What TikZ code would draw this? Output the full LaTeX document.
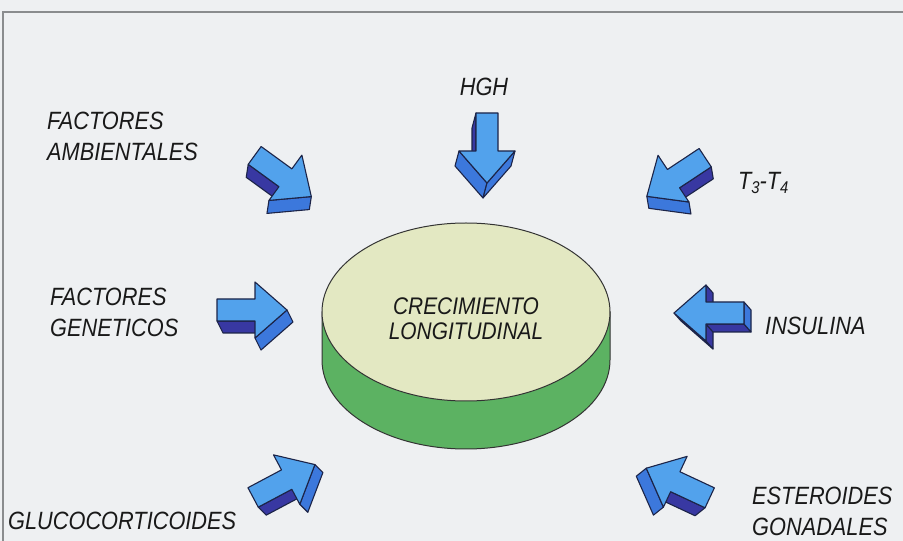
\documentclass[tikz,border=0pt]{standalone}
\usepackage{fontspec}
\usepackage{tikz}
\usetikzlibrary{calc}
\newfontfamily\lblfont[FakeStretch=0.87]{Liberation Sans}
\definecolor{paper}{HTML}{EEF0F2}
\definecolor{frameline}{HTML}{8A8C8E}
\definecolor{disctop}{HTML}{E3E8C2}
\definecolor{discside}{HTML}{5CB262}
\definecolor{arrowlight}{HTML}{52A2EC}
\definecolor{arrowmid}{HTML}{3C78DC}
\definecolor{arrowdark}{HTML}{3838A2}
\definecolor{arrowline}{HTML}{1C2448}
\newcommand\blockarrow[6]{%
  \begin{scope}[shift={(#2,#3)},rotate=#4]
    \coordinate (#1-1) at (-35,-11);
    \coordinate (#1-2) at (3,-11);
    \coordinate (#1-3) at (3,-28);
    \coordinate (#1-4) at (35,0);
    \coordinate (#1-5) at (3,28);
    \coordinate (#1-6) at (3,11);
    \coordinate (#1-7) at (-35,11);
  \end{scope}
  \pgfmathsetmacro\ox{(#5)*cos(#4)+(#6)*sin(#4)}
  \pgfmathsetmacro\oy{-(#5)*sin(#4)+(#6)*cos(#4)}
  \foreach \p/\q/\nx/\ny/\c in {1/2/0/-1/arrowdark,2/3/-1/0/arrowdark,3/4/28/-32/arrowmid,
      4/5/28/32/arrowmid,5/6/-1/0/arrowdark,6/7/0/1/arrowdark,7/1/-1/0/arrowmid}{
    \pgfmathtruncatemacro\vis{((\nx)*(\ox)+(\ny)*(\oy))>0.01}
    \ifnum\vis=1
      \filldraw[arrowside,fill=\c] (#1-\p) -- (#1-\q) -- ++(#5,#6) -- ($(#1-\p)+(#5,#6)$) -- cycle;
    \fi
  }
  \filldraw[arrowface] (#1-1) -- (#1-2) -- (#1-3) -- (#1-4) -- (#1-5) -- (#1-6) -- (#1-7) -- cycle;
}
\begin{document}
\begin{tikzpicture}[x=1pt,y=1pt,
  lbl/.style={font=\lblfont\itshape\fontsize{25}{31}\selectfont,text=black!90,align=left,inner sep=0pt},
  arrowface/.style={fill=arrowlight,draw=arrowline,line width=1.1pt,line join=round},
  arrowside/.style={draw=arrowline,line width=1.1pt,line join=round}]
\useasboundingbox (0,0) rectangle (903,541);
\fill[paper] (0,0) rectangle (903,541);
\draw[frameline,line width=1.2pt] (903,529) -- (3,529) -- (3,0);

\filldraw[fill=discside,draw=black!80,line width=1pt] (322,229) -- (322,181) arc (180:360:144 and 89) -- (610,229) -- cycle;
\filldraw[fill=disctop,draw=black!80,line width=1pt] (466,229) ellipse (144 and 89);
\node[lbl,align=center,font=\lblfont\itshape\fontsize{24}{25}\selectfont] (crec) at (466,222) {CRECIMIENTO\\LONGITUDINAL};

\blockarrow{amb}{283}{365}{-36}{-2}{-13}
\blockarrow{hgh}{487}{393}{-90}{-4}{-15}
\blockarrow{tt}{676}{364}{-146.5}{2}{-12}
\blockarrow{gen}{252}{231}{0}{6}{-12}
\blockarrow{ins}{709}{228}{180}{7}{-8}
\blockarrow{glu}{284}{60}{28}{8}{-8}
\blockarrow{est}{678}{58}{155}{-10}{-8}

\node[lbl,anchor=west] (ambl) at (47,405) {FACTORES\\AMBIENTALES};
\node[lbl] (hghl) at (484,454) {HGH};
\node[lbl,anchor=west] (ttl) at (738,358) {T\raisebox{-0.35ex}{\fontsize{17}{17}\selectfont 3}-T\raisebox{-0.35ex}{\fontsize{17}{17}\selectfont 4}};
\node[lbl,anchor=west] (genl) at (50,229) {FACTORES\\GENETICOS};
\node[lbl,anchor=west] (insl) at (765,215) {INSULINA};
\node[lbl,anchor=west] (glul) at (8,20) {GLUCOCORTICOIDES};
\node[lbl,anchor=west] (estl) at (752,30) {ESTEROIDES\\GONADALES};
\end{tikzpicture}
\end{document}
